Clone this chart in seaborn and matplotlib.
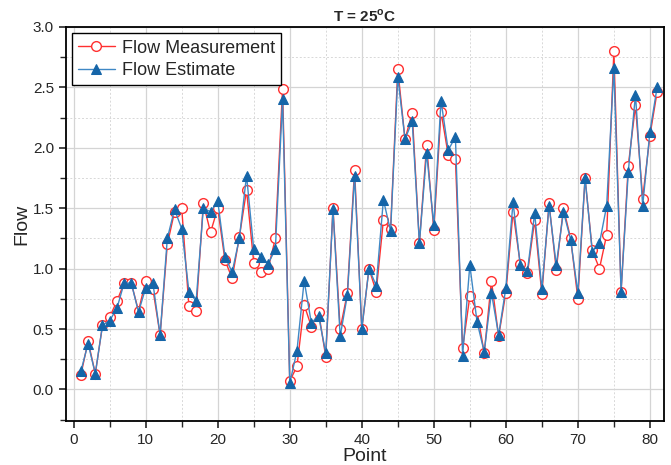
import numpy as np
import pandas as pd
import seaborn as sns
import matplotlib.pyplot as plt
from matplotlib.ticker import MultipleLocator

# values
points = list(range(1, 82))
measurement = [0.12, 0.40, 0.13, 0.53, 0.60, 0.73, 0.88, 0.88, 0.65, 0.90,
               0.83, 0.45, 1.20, 1.47, 1.50, 0.69, 0.65, 1.54, 1.30, 1.50,
               1.07, 0.92, 1.26, 1.65, 1.05, 0.97, 1.00, 1.25, 2.49, 0.07,
               0.19, 0.70, 0.52, 0.64, 0.27, 1.50, 0.50, 0.80, 1.82, 0.50,
               1.00, 0.81, 1.40, 1.33, 2.65, 2.07, 2.29, 1.21, 2.02, 1.32,
               2.30, 1.94, 1.91, 0.34, 0.77, 0.65, 0.30, 0.90, 0.44, 0.80,
               1.47, 1.04, 0.96, 1.40, 0.79, 1.54, 0.99, 1.50, 1.25, 0.75,
               1.75, 1.15, 1.00, 1.28, 2.80, 0.81, 1.85, 2.35, 1.58, 2.10,
               2.46]
estimate = [0.15, 0.38, 0.13, 0.53, 0.57, 0.67, 0.88, 0.88, 0.64, 0.84,
            0.88, 0.45, 1.25, 1.49, 1.33, 0.81, 0.73, 1.50, 1.47, 1.56,
            1.10, 0.97, 1.25, 1.77, 1.16, 1.10, 1.04, 1.16, 2.40, 0.05,
            0.32, 0.90, 0.55, 0.61, 0.30, 1.49, 0.44, 0.78, 1.77, 0.50,
            1.00, 0.86, 1.57, 1.31, 2.59, 2.07, 2.22, 1.21, 1.96, 1.36,
            2.39, 1.98, 2.09, 0.28, 1.03, 0.56, 0.31, 0.80, 0.45, 0.84,
            1.55, 1.03, 0.98, 1.46, 0.83, 1.52, 1.03, 1.47, 1.24, 0.80,
            1.75, 1.14, 1.21, 1.52, 2.66, 0.81, 1.80, 2.44, 1.52, 2.13,
            2.50]

df = pd.DataFrame({"Point": points, "Measurement": measurement, "Estimate": estimate})

sns.set_style("ticks")
plt.rcParams['font.family'] = ['Liberation Sans', 'DejaVu Sans']

fig = plt.figure(figsize=(6.71, 4.65), dpi=100)
ax = fig.add_axes([0.098, 0.095, 0.892, 0.847])

sns.lineplot(data=df, x="Point", y="Measurement", ax=ax, color="#ff3030", lw=1.0,
             marker="o", markersize=7, markerfacecolor="white",
             markeredgecolor="#ff3030", markeredgewidth=1.0,
             label="Flow Measurement", zorder=3)
sns.lineplot(data=df, x="Point", y="Estimate", ax=ax, color="#3f88c5", lw=1.0,
             marker="^", markersize=6.5, markerfacecolor="#1565a8",
             markeredgecolor="#1565a8", label="Flow Estimate", zorder=4)

ax.set_xlim(-1.1, 82)
ax.set_ylim(-0.26, 3.0)
ax.xaxis.set_major_locator(MultipleLocator(10))
ax.xaxis.set_minor_locator(MultipleLocator(5))
ax.yaxis.set_major_locator(MultipleLocator(0.5))
ax.yaxis.set_minor_locator(MultipleLocator(0.25))
ax.yaxis.set_major_formatter(plt.FormatStrFormatter('%.1f'))

ax.grid(which="major", color="#d4d4d4", lw=0.9, ls="-")
ax.grid(which="minor", color="#d8d8d8", lw=0.7, ls=(0, (2, 2)))
ax.set_axisbelow(True)

for s in ax.spines.values():
    s.set_linewidth(1.3)
    s.set_color("black")
ax.tick_params(which="major", direction="out", length=5, width=1.2, labelsize=11)
ax.tick_params(which="minor", direction="out", length=4, width=1.0)

ax.set_xlabel("Point", fontsize=14, labelpad=1)
ax.set_ylabel("Flow", fontsize=14, labelpad=2)
ax.set_title("T = 25$^\\mathregular{o}$C", fontsize=11, fontweight="bold", pad=4)

leg = ax.legend(loc="upper left", fontsize=13, frameon=True, fancybox=False,
                edgecolor="black", framealpha=1, borderpad=0.35,
                handlelength=2.0, handletextpad=0.4, labelspacing=0.3,
                borderaxespad=0.35)
leg.get_frame().set_linewidth(1.0)

fig.savefig("out.png", dpi=100)
